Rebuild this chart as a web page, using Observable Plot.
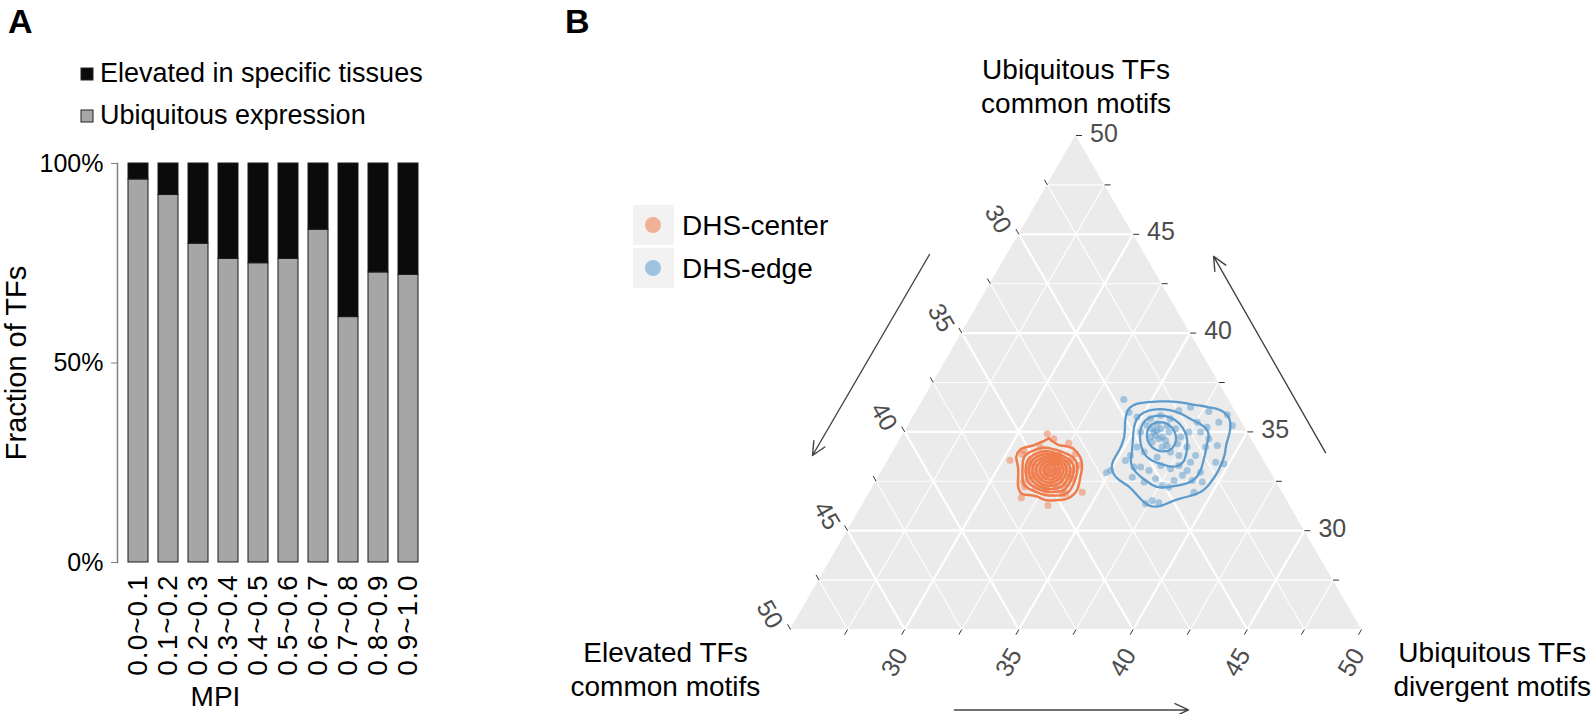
<!DOCTYPE html>
<html><head><meta charset="utf-8">
<script src="https://cdn.jsdelivr.net/npm/d3@7"></script>
<script src="https://cdn.jsdelivr.net/npm/@observablehq/plot@0.6"></script>
<style>
body{margin:0;background:#fff;}
#root{position:relative;width:1592px;height:714px;overflow:hidden;font-family:"Liberation Sans",Arial,Helvetica,sans-serif;color:#000;}
.abs{position:absolute;}
.letter{font-weight:bold;font-size:34px;line-height:1;}
.lgA-swatches-columns .lgA-swatch{padding-bottom:11px !important;}
.lgA-swatch svg{margin-right:7px !important;}
.lgA-swatch svg rect{stroke:#222;stroke-width:1px;}
.keyB{position:absolute;width:41px;height:40px;background:#f2f2f2;}
.keyB span{position:absolute;left:12px;top:12px;width:16px;height:16px;border-radius:50%;}
.labB{position:absolute;font-size:28px;line-height:1;white-space:nowrap;}
g[aria-label="x-axis tick label"]{letter-spacing:1px;}
</style></head><body><div id="root"></div>
<script>
// ---------- Panel A data ----------
const mpiBins = ["0.0~0.1","0.1~0.2","0.2~0.3","0.3~0.4","0.4~0.5","0.5~0.6","0.6~0.7","0.7~0.8","0.8~0.9","0.9~1.0"];
const ubiquitousFrac = [0.960,0.921,0.799,0.761,0.750,0.761,0.834,0.615,0.727,0.721];
const elevatedFrac   = [0.040,0.079,0.201,0.239,0.250,0.239,0.166,0.385,0.273,0.279];
const seriesA = ["Elevated in specific tissues","Ubiquitous expression"];
const colorsA = ["#0b0b0b","#a6a6a6"];
const yTicksA = [0,0.5,1];

// ---------- Panel B data (ternary %, T = Ubiquitous common, R = Ubiquitous divergent, L = Elevated common) ----------
const groupsB = ["DHS-center","DHS-edge"];
const colorsB = ["#F07B4B","#5B9BCD"];
const centerT = [34.91,34.65,34.43,34.23,34.06,33.86,33.56,33.30,32.46,32.21,31.67,32.04,31.87,31.87,31.95,31.28,33.89,
  33.05,33.22,33.18,32.88,32.85,32.97,32.97,33.39,33.13,33.22,32.68,32.63,32.88,32.88,33.56,33.47,33.47,32.54,32.54,32.41,
  33.22,33.13,32.29,32.29,32.68,32.68,33.56,33.56,33.81,33.81,33.05,33.05,32.21,32.21,32.12,33.13,33.01,32.97,33.22,
  33.47,33.72,33.89,33.81,33.42,32.88,32.37,32.12,32.21,32.54,33.30,33.56,33.05,32.71,32.71,32.80,33.39,33.22,32.37,32.97,
  33.72,33.59,32.63,32.80,33.47];
const centerR = [31.29,31.70,32.47,31.31,30.69,30.72,30.33,33.44,31.46,31.65,31.77,32.65,33.47,33.62,34.30,33.13,33.03,
  32.34,32.06,32.44,32.33,32.54,32.12,32.63,32.13,31.88,32.64,32.37,32.72,31.86,32.96,32.11,31.79,32.45,32.11,33.06,32.66,
  31.55,32.98,32.46,33.04,31.79,33.31,31.23,32.98,32.06,31.55,31.35,33.32,32.13,33.37,32.68,32.35,32.23,32.52,32.22,
  31.36,31.37,31.72,32.35,32.91,33.29,33.40,33.05,32.35,31.74,31.25,31.82,32.66,32.09,32.89,32.27,31.61,32.86,32.77,31.68,
  31.96,32.61,33.53,31.58,32.30];
const edgeT = [36.64,36.00,35.75,35.41,35.66,36.08,36.25,36.03,35.49,35.87,
  35.33,35.49,35.24,34.99,34.65,34.31,34.23,33.81,34.23,34.74,
  34.99,34.99,34.82,34.48,34.23,33.98,33.72,33.98,34.23,33.81,
  33.55,33.22,33.22,33.05,33.30,33.13,33.30,33.05,32.80,32.54,
  32.29,32.20,32.54,32.46,33.47,33.39,33.05,32.93,32.71,31.36,
  31.53,31.41,31.95,35.33,35.16,35.33,34.99,35.83,35.66,33.81,
  33.47,32.96,32.63,32.46,34.31,34.40,34.99,34.65,35.07,34.74,
  34.74,34.57,35.16,35.16];
const edgeR = [33.77,34.32,34.80,35.85,36.30,36.46,36.89,37.80,38.51,38.69,
  39.18,37.56,38.12,37.96,38.49,39.03,38.56,38.33,37.75,37.21,
  37.45,36.57,36.08,36.09,36.66,37.15,36.69,35.99,35.56,35.48,
  35.39,35.93,36.22,36.67,37.06,37.57,37.86,38.34,38.26,38.02,
  37.63,37.96,38.82,39.30,39.38,39.78,34.99,34.87,36.11,37.37,
  37.57,37.92,39.19,36.33,36.78,35.45,35.33,35.79,35.43,37.60,
  38.28,38.97,37.17,36.75,36.84,37.24,35.91,36.30,36.02,36.41,
  35.90,36.64,36.13,35.76];
const majorGrid = [30,35,40,45];
const minorGrid = [27.5,32.5,37.5,42.5,47.5];
const tickValues = [27.5,30,32.5,35,37.5,40,42.5,45,47.5,50];
const tickLabels = [30,35,40,45,50];
// annotation positions in triangle units (side = 1, bottom-left vertex = origin)
const axisTitles = [
  {text:"Ubiquitous TFs\ncommon motifs", x:0.5, y:0.955},
  {text:"Elevated TFs\ncommon motifs", x:-0.219, y:-0.068},
  {text:"Ubiquitous TFs\ndivergent motifs", x:1.229, y:-0.068}
];
const arrowsB = [
  {x1:0.2434, y1:0.6574, x2:0.0385, y2:0.305},
  {x1:0.937,  y1:0.310,  x2:0.741,  y2:0.654},
  {x1:0.287,  y1:-0.141, x2:0.697, y2:-0.141}
];

const FONT = '"Liberation Sans",Arial,Helvetica,sans-serif';
const root = document.getElementById("root");

// ---------- Panel A ----------
const rowsA = mpiBins.flatMap((b,i)=>[
  {bin:b,type:seriesA[1],value:ubiquitousFrac[i]},
  {bin:b,type:seriesA[0],value:elevatedFrac[i]}
]);
const plotA = Plot.plot({
  width:440, height:714, marginTop:163, marginBottom:152, marginLeft:117, marginRight:12,
  style:{fontFamily:FONT, fontSize:"24px", color:"#000", background:"transparent", overflow:"visible"},
  x:{type:"band", domain:mpiBins, range:[117,428], paddingInner:0.35, paddingOuter:0.23, label:null},
  y:{domain:[0,1], label:null},
  color:{domain:seriesA, range:colorsA},
  marks:[
    Plot.barY(rowsA,{x:"bin", y:"value", fill:"type", stroke:"#1a1a1a", strokeWidth:1, order:[seriesA[1],seriesA[0]]}),
    Plot.axisY({ticks:yTicksA, tickFormat:d=>Math.round(d*100)+"%", tickSize:6, tickPadding:8, stroke:"#808080", fill:"#000", fontSize:25, label:null}),
    Plot.frame({anchor:"left", stroke:"#808080", strokeWidth:1.5}),
    Plot.axisX({tickRotate:-90, tickSize:0, tickPadding:12, fontSize:28, fill:"#000", label:null}),
    Plot.text(["Fraction of TFs"],{frameAnchor:"left", dx:-101, rotate:-90, textAnchor:"middle", fontSize:29, fill:"#000"}),
    Plot.text(["MPI"],{frameAnchor:"bottom-left", dx:98, dy:135, textAnchor:"middle", lineAnchor:"middle", fontSize:28, fill:"#000"})
  ]
});
plotA.style.position="absolute"; plotA.style.left="0px"; plotA.style.top="0px";
root.appendChild(plotA);

const legA = Plot.legend({
  color:{domain:seriesA, range:colorsA}, legend:"swatches", columns:1,
  swatchSize:12, className:"lgA",
  style:{fontFamily:FONT, fontSize:"27px", color:"#000"}
});
legA.style.position="absolute"; legA.style.left="81px"; legA.style.top="58px";
root.appendChild(legA);

// ---------- Panel B ----------
const S = Math.sqrt(3)/2;
function tern(T, L, R){
  const s = T + L + R;
  const t = (100*T/s - 25)/25, r = (100*R/s - 25)/25;
  return {x: r + t/2, y: t*S};
}
const pts = [
  ...centerT.map((T,i)=>({group:groupsB[0], T, R:centerR[i], L:100-T-centerR[i]})),
  ...edgeT.map((T,i)=>({group:groupsB[1], T, R:edgeR[i], L:100-T-edgeR[i]}))
].map(d=>({...d, ...tern(d.T,d.L,d.R)}));
const ptsCenter = pts.filter(d=>d.group===groupsB[0]);
const ptsEdge = pts.filter(d=>d.group===groupsB[1]);

const tri = [tern(25,50,25), tern(50,25,25), tern(25,25,50)];
const triArea = tri.map(p=>({x:p.x, y2:p.y}));

function gridLines(vals){
  const out=[];
  for(const v of vals){
    const o=75-v;
    const a=tern(v,o,25), b=tern(v,25,o);      // T = v
    const c=tern(o,v,25), d=tern(25,v,o);      // L = v
    const e=tern(o,25,v), f=tern(25,o,v);      // R = v
    out.push({x1:a.x,y1:a.y,x2:b.x,y2:b.y},{x1:c.x,y1:c.y,x2:d.x,y2:d.y},{x1:e.x,y1:e.y,x2:f.x,y2:f.y});
  }
  return out;
}
const PX = 1/571; // one pixel in data units
const TL = 6*PX;
const tickT = tickValues.map(v=>{const p=tern(v,25,75-v); return {v, x:p.x, y:p.y, x2:p.x+TL, y2:p.y};});
const tickR = tickValues.map(v=>{const p=tern(25,75-v,v); return {v, x:p.x, y:p.y, x2:p.x-0.5*TL, y2:p.y-S*TL};});
const tickL = tickValues.map(v=>{const p=tern(75-v,v,25); return {v, x:p.x, y:p.y, x2:p.x-0.5*TL, y2:p.y+S*TL};});
const ticksAll = [...tickT, ...tickR, ...tickL];
const labT = tickT.filter(d=>tickLabels.includes(d.v));
const labR = tickR.filter(d=>tickLabels.includes(d.v));
const labL = tickL.filter(d=>tickLabels.includes(d.v));

const plotB = Plot.plot({
  width:1052, height:714, margin:0,
  style:{fontFamily:FONT, fontSize:"24px", color:"#000", background:"transparent", overflow:"visible"},
  x:{domain:[0,1], range:[250,821], axis:null},
  y:{domain:[0,S], range:[629,135], axis:null},
  color:{domain:groupsB, range:colorsB},
  marks:[
    Plot.areaY(triArea,{x:"x", y1:0, y2:"y2", fill:"#ebebeb"}),
    Plot.link(gridLines(minorGrid),{x1:"x1",y1:"y1",x2:"x2",y2:"y2", stroke:"#ffffff", strokeWidth:1.1}),
    Plot.link(gridLines(majorGrid),{x1:"x1",y1:"y1",x2:"x2",y2:"y2", stroke:"#ffffff", strokeWidth:2.2}),
    Plot.link(ticksAll,{x1:"x",y1:"y",x2:"x2",y2:"y2", stroke:"#333", strokeWidth:1}),
    Plot.text(labT,{x:"x", y:"y", text:"v", dx:14, dy:-2, textAnchor:"start", fill:"#4d4d4d", fontSize:25}),
    Plot.text(labR,{x:"x", y:"y", text:"v", dx:-3, dy:21, rotate:-60, textAnchor:"end", fill:"#4d4d4d", fontSize:25}),
    Plot.text(labL,{x:"x", y:"y", text:"v", dx:-14, dy:-3, rotate:60, textAnchor:"end", fill:"#4d4d4d", fontSize:25}),
    Plot.dot(pts,{x:"x", y:"y", fill:"group", r:3.5, fillOpacity:0.5}),
    Plot.density(ptsCenter,{x:"x", y:"y", stroke:colorsB[0], bandwidth:5, thresholds:9, strokeWidth:2.5}),
    Plot.density(ptsEdge,{x:"x", y:"y", stroke:colorsB[1], bandwidth:12, thresholds:5, strokeWidth:2.3}),
    Plot.arrow(arrowsB,{x1:"x1",y1:"y1",x2:"x2",y2:"y2", stroke:"#444", strokeWidth:1.4, headLength:16, headAngle:50}),
    Plot.text(axisTitles,{x:"x", y:"y", text:"text", fontSize:28, lineHeight:1.22, fill:"#000"})
  ]
});
plotB.style.position="absolute"; plotB.style.left="540px"; plotB.style.top="0px";
root.appendChild(plotB);

// Panel B legend (HTML)
const legB = document.createElement("div");
legB.className="abs"; legB.style.left="633px"; legB.style.top="205px";
groupsB.forEach((g,i)=>{
  const k=document.createElement("div"); k.className="keyB"; k.style.left="0px"; k.style.top=(i*43)+"px";
  const c=document.createElement("span"); c.style.background=colorsB[i]; c.style.opacity="0.55"; k.appendChild(c);
  legB.appendChild(k);
  const t=document.createElement("div"); t.className="labB"; t.textContent=g; t.style.left="49px"; t.style.top=(i*43+7)+"px";
  legB.appendChild(t);
});
root.appendChild(legB);

// panel letters
[["A",8,4],["B",565,4]].forEach(([s,x,y])=>{
  const d=document.createElement("div"); d.className="abs letter"; d.textContent=s; d.style.left=x+"px"; d.style.top=y+"px"; root.appendChild(d);
});
</script>
</body></html>
